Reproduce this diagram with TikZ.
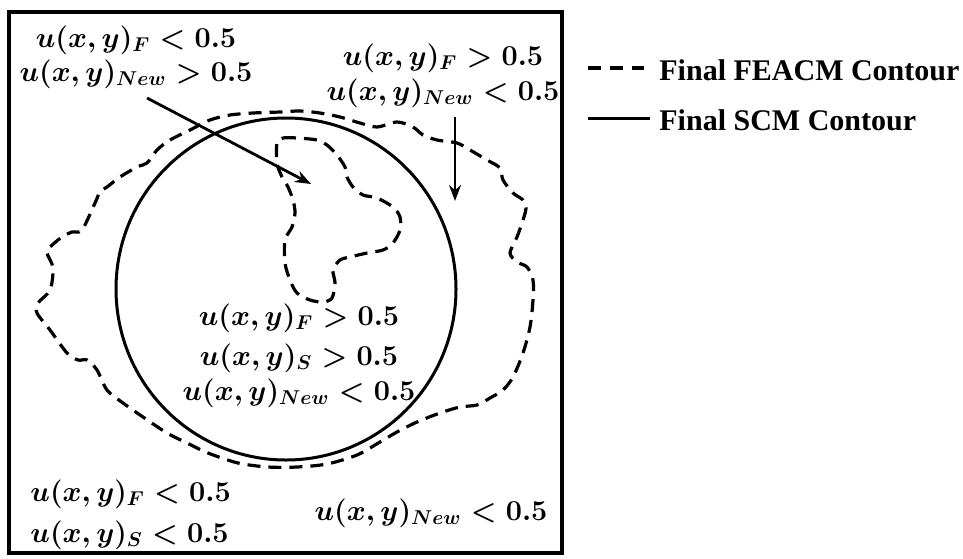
\documentclass[tikz,border=0pt]{standalone}
\usepackage{amsmath}
\usepackage{fontspec}
\setmainfont{Liberation Serif}
\usetikzlibrary{arrows.meta}
\tikzset{
  lbl/.style={font=\fontsize{14}{17}\selectfont\boldmath, inner sep=0pt},
  leg/.style={font=\fontsize{15}{18}\selectfont\bfseries, inner sep=0pt, anchor=west},
  feacm/.style={line width=1.6pt, dash pattern=on 6.5pt off 4pt},
  scm/.style={line width=1.5pt},
  ptr/.style={line width=1.4pt, -{Stealth[length=8pt,width=6pt]}},
}
\begin{document}
\begin{tikzpicture}[x=0.5pt,y=-0.5pt]
\useasboundingbox (0,0) rectangle (963,558);
% frame
\draw[line width=1.7pt] (9,12) rectangle (562,553);
% SCM contour
\draw[scm] (286,289) ellipse [x radius=170, y radius=171];
% outer FEACM contour
\draw[feacm] plot[smooth cycle, tension=0.5] coordinates {
 (157,150) (170,140) (190,130) (210,120) (230,115) (253,113) (280,112) (300,111)
 (320,113) (340,117) (360,123) (377,127) (397,122) (413,127) (423,135) (437,140)
 (457,143) (470,150) (487,160) (500,168) (503,180) (513,193) (523,200) (526,208)
 (523,220) (517,237) (510,253) (517,262) (527,267) (533,280) (533,300) (530,327)
 (523,353) (513,377) (503,390) (490,398) (477,405) (460,407) (440,413) (417,422)
 (397,432) (380,442) (357,455) (327,464) (297,467) (268,467) (238,463) (208,453)
 (187,443) (167,433) (143,417) (123,403) (107,390) (97,370) (87,360) (78,360)
 (67,353) (50,330) (37,313) (38,303) (50,290) (53,268) (47,253) (50,247)
 (62,237) (72,232) (82,230) (95,203) (100,192) (107,187) (120,177) (137,167)
 (147,163)};
% inner FEACM contour
\draw[feacm] plot[smooth cycle, tension=0.5] coordinates {
 (277,143) (283,138) (297,138) (317,140) (327,145) (337,155) (345,167) (347,177)
 (353,187) (363,195) (377,198) (393,207) (400,217) (400,230) (393,243) (383,250)
 (367,253) (350,257) (340,260) (333,270) (335,283) (332,298) (323,302) (310,300)
 (297,293) (290,280) (285,263) (285,240) (292,227) (295,213) (293,200) (288,187)
 (282,177) (277,163)};
% labels
\node[lbl] (tl1) at (136,40) {$u(x,y)_F<0.5$};
\node[lbl] (tl2) at (136,74) {$u(x,y)_{New}>0.5$};
\node[lbl] (tr1) at (443,58) {$u(x,y)_F>0.5$};
\node[lbl] (tr2) at (443,93) {$u(x,y)_{New}<0.5$};
\node[lbl] (c1) at (299,318) {$u(x,y)_F>0.5$};
\node[lbl] (c2) at (299,358) {$u(x,y)_S>0.5$};
\node[lbl] (c3) at (299,393) {$u(x,y)_{New}<0.5$};
\node[lbl,anchor=west] (bl1) at (30,494) {$u(x,y)_F<0.5$};
\node[lbl,anchor=west] (bl2) at (30,535) {$u(x,y)_S<0.5$};
\node[lbl] (br) at (431,513) {$u(x,y)_{New}<0.5$};
% pointers
\coordinate (a1s) at (147,98);
\coordinate (a1e) at (311,184);
\coordinate (a2s) at (455,117);
\coordinate (a2e) at (455,201);
\draw[ptr] (a1s) -- (a1e);
\draw[ptr] (a2s) -- (a2e);
% legend
\coordinate (l1a) at (588,68);
\coordinate (l1b) at (644,68);
\coordinate (l2a) at (588,118);
\coordinate (l2b) at (650,118);
\draw[line width=1.6pt, dash pattern=on 6.5pt off 4.5pt] (l1a) -- (l1b);
\draw[line width=1.5pt] (l2a) -- (l2b);
\node[leg] (t1) at (659,70) {Final FEACM Contour};
\node[leg] (t2) at (659,120) {Final SCM Contour};
\end{tikzpicture}
\end{document}
